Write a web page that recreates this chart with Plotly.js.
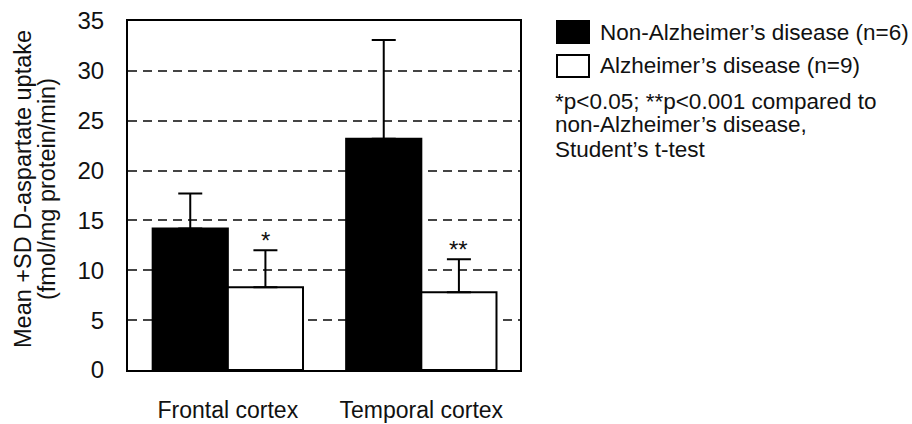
<!DOCTYPE html>
<html>
<head>
<meta charset="utf-8">
<script src="https://cdn.plot.ly/plotly-3.0.1.min.js"></script>
<style>html,body{margin:0;padding:0;background:#fff;}#chart{width:912px;height:424px;}</style>
</head>
<body>
<div id="chart"></div>
<script>
var categories = ['Frontal cortex', 'Temporal cortex'];
var nonADMean = [14.2, 23.2];
var nonADSD = [3.5, 9.9];
var adMean = [8.3, 7.8];
var adSD = [3.7, 3.3];
var significance = ['*', '**'];
var yTicks = [0, 5, 10, 15, 20, 25, 30, 35];
var seriesNames = ["Non-Alzheimer\u2019s disease (n=6)", "Alzheimer\u2019s disease (n=9)"];
var noteLines = ["*p<0.05; **p<0.001 compared to", "non-Alzheimer\u2019s disease,", "Student\u2019s t-test"];
var yTitleLines = ["Mean +SD D-aspartate uptake", "(fmol/mg protein/min)"];

var W = 912, H = 424;
var M = {l: 128, r: 392, t: 21, b: 54};
var PW = W - M.l - M.r, PH = H - M.t - M.b;
function px(x) { return (x - M.l) / PW; }
function py(y) { return (H - M.b - y) / PH; }

var FONT = '"Liberation Sans", Arial, Helvetica, sans-serif';
var TXT = '#111';

var traces = [
  {
    type: 'bar', x: categories, y: nonADMean, name: seriesNames[0],
    marker: {color: '#000', line: {color: '#000', width: 2}},
    error_y: {type: 'data', array: nonADSD, arrayminus: [0, 0], symmetric: false, color: '#000', thickness: 2, width: 12},
    showlegend: false, hoverinfo: 'skip'
  },
  {
    type: 'bar', x: categories, y: adMean, name: seriesNames[1],
    marker: {color: '#fff', line: {color: '#000', width: 2}},
    error_y: {type: 'data', array: adSD, arrayminus: [0, 0], symmetric: false, color: '#000', thickness: 2, width: 12},
    showlegend: false, hoverinfo: 'skip'
  }
];

var annotations = [];
categories.forEach(function (c, i) {
  annotations.push({
    xref: 'x', yref: 'y', x: c, y: adMean[i] + adSD[i], xshift: 37.5, yshift: -6,
    text: significance[i], showarrow: false, xanchor: 'center', yanchor: 'bottom',
    font: {family: FONT, size: 24, color: TXT}
  });
});
// y-axis title, two lines
var yTitleX = [23, 47];
yTitleLines.forEach(function (t, i) {
  annotations.push({
    xref: 'paper', yref: 'paper', x: px(yTitleX[i]), y: py(189), text: t, textangle: -90,
    showarrow: false, xanchor: 'center', yanchor: 'middle',
    font: {family: FONT, size: 23.5, color: TXT}
  });
});
// legend labels
var legendY = [32, 66];
seriesNames.forEach(function (n, i) {
  annotations.push({
    xref: 'paper', yref: 'paper', x: px(598), y: py(legendY[i]), text: n, showarrow: false,
    xanchor: 'left', yanchor: 'middle', font: {family: FONT, size: 22.5, color: TXT}
  });
});
var noteY = [101, 125, 149];
noteLines.forEach(function (t, i) {
  annotations.push({
    xref: 'paper', yref: 'paper', x: px(553), y: py(noteY[i]), text: t, showarrow: false,
    xanchor: 'left', yanchor: 'middle', font: {family: FONT, size: 22.5, color: TXT}
  });
});

var shapes = [
  {type: 'rect', xref: 'paper', yref: 'paper', x0: px(557), x1: px(589), y0: py(43), y1: py(21),
   fillcolor: '#000', line: {color: '#000', width: 2}},
  {type: 'rect', xref: 'paper', yref: 'paper', x0: px(557), x1: px(589), y0: py(77), y1: py(55),
   fillcolor: '#fff', line: {color: '#000', width: 2}}
];

var layout = {
  width: W, height: H,
  margin: M,
  paper_bgcolor: '#fff', plot_bgcolor: '#fff',
  barmode: 'group', bargap: 0.223, bargroupgap: 0,
  font: {family: FONT, size: 24, color: TXT},
  xaxis: {
    type: 'category', range: [-0.516, 1.51], showgrid: false, zeroline: false,
    showline: true, mirror: true, linecolor: '#000', linewidth: 2,
    ticks: '', ticklabelstandoff: 18, tickfont: {family: FONT, size: 23, color: TXT}
  },
  yaxis: {
    range: [0, 35], tickvals: yTicks, ticktext: yTicks.map(String),
    showgrid: true, gridcolor: '#444', gridwidth: 2, griddash: '9px,6px',
    zeroline: false, showline: true, mirror: true, linecolor: '#000', linewidth: 2,
    ticks: '', ticklabelstandoff: 17, tickfont: {family: FONT, size: 24, color: TXT}
  },
  annotations: annotations,
  shapes: shapes
};

Plotly.newPlot('chart', traces, layout, {displayModeBar: false, staticPlot: true});
</script>
</body>
</html>
